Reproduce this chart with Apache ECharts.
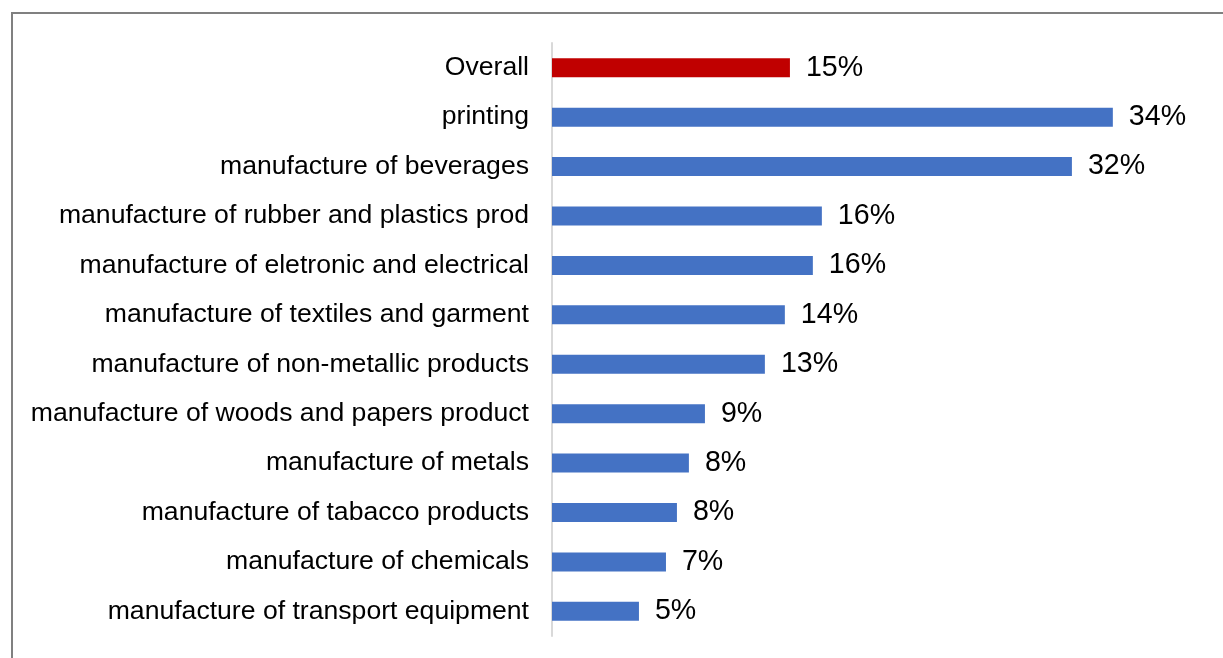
<!DOCTYPE html>
<html>
<head>
<meta charset="utf-8">
<script src="https://cdn.jsdelivr.net/npm/echarts@6/dist/echarts.min.js"></script>
<style>html,body{margin:0;padding:0;background:#fff;}#chart{width:1223px;height:658px;}</style>
</head>
<body>
<div id="chart"></div>
<script>
const categories = [
  "Overall",
  "printing",
  "manufacture of beverages",
  "manufacture of rubber and plastics prod",
  "manufacture of eletronic and electrical",
  "manufacture of textiles and garment",
  "manufacture of non-metallic products",
  "manufacture of woods and papers product",
  "manufacture of metals",
  "manufacture of tabacco products",
  "manufacture of chemicals",
  "manufacture of transport equipment"
];
const values = [14.53, 34.25, 31.75, 16.48, 15.93, 14.22, 13.0, 9.34, 8.36, 7.63, 6.96, 5.31];
const labels = ["15%", "34%", "32%", "16%", "16%", "14%", "13%", "9%", "8%", "8%", "7%", "5%"];
const titleText = "Firms";

const chart = echarts.init(document.getElementById('chart'), null, {renderer: 'canvas'});
chart.setOption({
  animation: false,
  backgroundColor: '#ffffff',
  graphic: [
    {type: 'line', shape: {x1: 11, y1: 13, x2: 1223, y2: 13}, style: {stroke: '#808080', lineWidth: 2}},
    {type: 'line', shape: {x1: 12, y1: 13, x2: 12, y2: 658}, style: {stroke: '#808080', lineWidth: 2}},
    {type: 'text', x: 625, y: 5, style: {text: titleText, font: 'bold 28px "Liberation Serif", serif', fill: '#000', textAlign: 'center', textVerticalAlign: 'bottom'}}
  ],
  grid: {left: 552, right: 16, top: 43, bottom: 22, containLabel: false},
  xAxis: {type: 'value', min: 0, max: 40, show: false},
  yAxis: {
    type: 'category',
    data: categories,
    inverse: true,
    axisLine: {show: true, lineStyle: {color: '#d9d9d9', width: 2}},
    axisTick: {show: false},
    axisLabel: {color: '#000', fontSize: 26.6, fontFamily: '"Liberation Sans", Arial, sans-serif', margin: 23}
  },
  series: [{
    type: 'bar',
    barWidth: 19,
    data: values.map((v, i) => ({value: v, itemStyle: {color: i === 0 ? '#C00000' : '#4472C4'}})),
    label: {
      show: true, position: 'right', distance: 16,
      color: '#000', fontSize: 28.6, fontFamily: '"Liberation Sans", Arial, sans-serif',
      formatter: p => labels[p.dataIndex]
    }
  }]
});
</script>
</body>
</html>
